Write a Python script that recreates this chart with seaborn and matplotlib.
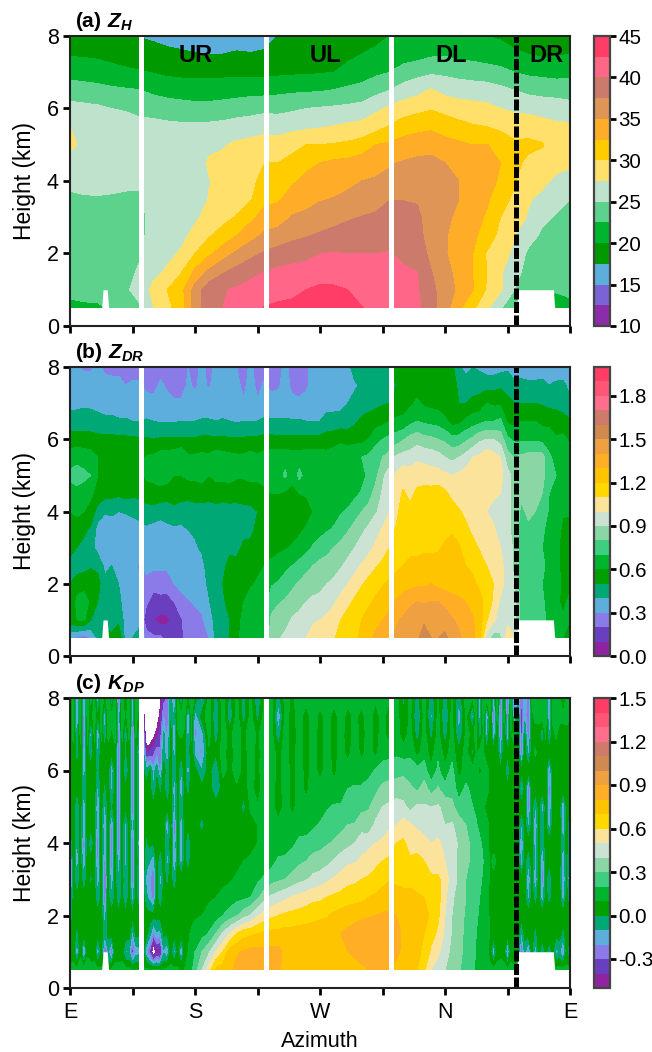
import numpy as np
import matplotlib
matplotlib.use('Agg')
import matplotlib.pyplot as plt
from matplotlib.colors import ListedColormap, BoundaryNorm
import seaborn as sns

heights = [0.5, 1, 1.5, 2, 2.5, 3, 3.5, 4, 4.5, 5, 5.5, 6, 6.5, 7, 7.5, 8]
az_10 = list(range(0, 361, 10))
az_5 = list(range(0, 361, 5))
az_kdp = list(np.arange(0, 90, 2.5)) + list(range(90, 290, 5)) + list(np.arange(290, 360.1, 2.5))

# each row below is one azimuth, bottom to top
zh = [
    [21.5, 23.5, 23.6, 23.6, 23.7, 24.0, 24.6, 25.5, 26.7, 28.0, 27.5, 25.8, 23.8, 21.5, 19.8, 18.5],
    [22, 23.5, 23.6, 23.7, 23.8, 24.2, 24.8, 25.6, 26.4, 27, 26.8, 25.6, 23.6, 21.3, 19.7, 18.5],
    [22, 23.7, 23.7, 23.8, 24, 24.3, 24.8, 25.8, 26.2, 26.6, 26.5, 25.4, 23.4, 21, 19.6, 18.4],
    [23, 24, 24, 24, 24, 24.2, 24.7, 25.7, 26.2, 26.4, 26.4, 25, 23, 20.7, 19.3, 18.2],
    [24, 24.8, 24.5, 24.2, 24.1, 24.2, 24.6, 25.5, 26, 26.3, 26, 24.8, 22.8, 20.4, 19, 18],
    [24.8, 25.5, 25.2, 24.8, 24.6, 24.6, 24.8, 25.2, 26, 26.3, 25.8, 24.3, 22.6, 20.2, 18.6, 17.4],
    [27.4, 28.3, 26.7, 25.9, 25.6, 25.5, 25.6, 25.8, 26, 26.2, 25.8, 24, 22, 19.9, 18.6, 17],
    [29.2, 30, 27.9, 26.8, 26.2, 25.9, 25.7, 25.8, 26, 26.2, 25.6, 23.7, 21.6, 19.5, 18, 16.8],
    [31.5, 31.6, 29.8, 27.8, 26.8, 26.2, 25.9, 25.8, 25.9, 26, 25.5, 23.4, 21.5, 19.3, 17.8, 16.6],
    [36, 36, 33, 30, 28.2, 27.1, 26.4, 26, 26, 26, 25.5, 23.2, 21.4, 19.2, 17.6, 16.4],
    [39, 39, 35.5, 32, 29.7, 28.3, 27.6, 27.4, 27.8, 27, 25.6, 23.2, 21.4, 19.2, 17.5, 16.4],
    [40, 39.8, 37.2, 33.8, 31, 29.2, 28.5, 28, 28, 27.3, 25.8, 23.4, 21.5, 19.3, 17.5, 16.5],
    [41, 40.3, 38.3, 35.5, 32.5, 30.2, 29, 28.7, 28.4, 27.9, 26.2, 23.7, 21.6, 19.3, 17.7, 16.6],
    [41.6, 41, 39.2, 36.8, 34, 31.9, 29.8, 29.2, 28.8, 28.2, 26.4, 24, 21.7, 19.3, 17.6, 16.5],
    [42.6, 41.5, 40, 37.8, 35.5, 33.5, 31.8, 31, 30, 28.4, 26.8, 24.3, 21.7, 19.3, 17.8, 16.6],
    [43, 41.5, 40.5, 38.5, 36, 33.8, 32.2, 31, 30, 28.5, 26.5, 24.3, 21.9, 19.5, 18, 17.6],
    [43, 42, 40.7, 39, 36.8, 35.2, 33.5, 32.2, 31, 29, 26.9, 24.6, 22.1, 19.6, 18.2, 17.5],
    [43.5, 42.5, 41, 39.2, 37.3, 35.7, 34, 33, 32, 30, 27, 25, 22.2, 19.7, 18.4, 17.6],
    [43.8, 43, 41.3, 40, 37.8, 36.2, 34.8, 33.8, 32.5, 30, 27.3, 25.2, 22.3, 19.8, 18.6, 17.8],
    [43.5, 42.9, 41.4, 40.1, 38.3, 36.6, 35.1, 34.2, 33, 30.2, 27.6, 25.4, 22.6, 20, 18.8, 18],
    [43, 42.5, 41.1, 40, 38.6, 37.2, 35.4, 34.6, 33.2, 30.5, 28, 25.6, 23, 20.8, 19.4, 18.2],
    [42.6, 41.5, 40.9, 40, 38.9, 37.6, 35.9, 35, 33.8, 31, 28.3, 25.9, 23.3, 21.4, 20, 19],
    [42, 41.5, 40.8, 40, 39, 38, 36.2, 35.3, 34, 32.5, 29, 27, 24.2, 22, 20.3, 19.6],
    [41.5, 41.3, 40.7, 40.1, 39.2, 38.6, 37.4, 35.5, 34.8, 32.9, 30.2, 27.9, 25, 22.5, 21, 20],
    [41, 41, 40.3, 39.5, 39, 38.5, 37.4, 36.1, 35.2, 33.6, 31.2, 28.8, 26, 23.6, 21.2, 21],
    [40.5, 40.2, 40, 39, 38.3, 38, 37.3, 36.4, 35.5, 34, 31.7, 29.3, 26.7, 24.2, 21.5, 20.8],
    [38.5, 38.3, 37.6, 36.8, 36.4, 36.3, 36.2, 36.4, 35.6, 34.2, 32, 29.8, 27.8, 24.6, 22.1, 20.8],
    [36, 36, 35.8, 35.2, 35.2, 35.4, 35.6, 35.8, 35, 33.5, 31.2, 29.3, 26.7, 24.5, 22.2, 20.6],
    [33, 34.6, 34.2, 33.8, 34, 34.6, 35, 35, 33.6, 33, 30.7, 28.8, 26.3, 24.2, 21.8, 20.5],
    [30.5, 32.6, 32.5, 32.5, 33, 33.5, 34, 34.2, 33.4, 32.5, 30.2, 28.6, 26.1, 24, 21.5, 20.3],
    [28, 29.8, 30, 29.8, 31.5, 32.2, 32.9, 33.8, 33, 32.6, 30, 28.2, 26, 23.8, 21, 20],
    [25.3, 27.8, 27.8, 28.5, 29.2, 30, 31, 32, 32.5, 31.5, 29.5, 27.5, 25.6, 23.3, 20.7, 19.8],
    [22.6, 25, 26, 27, 27.6, 28.6, 29.5, 30.2, 30.6, 30.3, 29.2, 27, 25, 22.5, 20.2, 19.5],
    [22, 23.5, 24, 24.5, 26, 27.3, 27.7, 28.5, 29.5, 30.5, 29, 26.8, 24.4, 22, 20, 19.3],
    [21, 23.3, 23.3, 23.7, 24.6, 25.5, 27, 28, 29, 30.2, 28.6, 26.4, 24.2, 21.8, 19.6, 19],
    [20, 23, 23.3, 23.5, 24, 24.8, 25.7, 27, 28.3, 28.5, 28, 26.3, 24, 21.6, 19.8, 19],
    [21.5, 23.3, 23.6, 23.7, 24, 24.5, 25, 26.8, 27.8, 28.5, 27.9, 26, 23.8, 21.8, 20, 19.3],
]

# hundredths of a dB
zdr = [
    [30, 56, 52, 50, 48, 52, 56, 60, 66, 72, 66, 54, 45, 36, 33, 32],
    [28, 60, 62, 56, 44, 50, 55, 62, 67, 74, 67, 54, 45, 37, 33, 31],
    [24, 62, 64, 57, 46, 47, 52, 60, 66, 72, 66, 54, 45, 38, 33, 29],
    [30, 50, 58, 60, 48, 44, 48, 56, 62, 70, 64, 54, 44, 38, 33, 29],
    [42, 46, 50, 54, 47, 36, 36, 46, 56, 60, 60, 53, 43, 37, 34, 32],
    [55, 45, 44, 42, 38, 34, 33, 41, 54, 57, 57, 53, 42, 36, 33, 28],
    [52, 45, 46, 43, 40, 36, 34, 42, 53, 56, 58, 53, 42, 36, 33, 27],
    [60, 47, 42, 40, 40, 36, 33, 40, 52, 56, 55, 52, 41, 35, 32, 28],
    [35, 36, 36, 34, 34, 33, 32, 41, 54, 56, 57, 52, 41, 35, 30, 26],
    [40, 36, 34, 33, 33, 33, 33, 43, 52, 54, 58, 52, 40, 35, 31, 27],
    [50, 32, 30, 30, 29, 33, 35, 45, 52, 56, 56, 51, 40, 36, 31, 27],
    [25, 13, 22, 28, 32, 36, 38, 46, 55, 62, 61, 51, 41, 33, 28, 25],
    [22, 10, 15, 24, 32, 34, 36, 46, 57, 62, 62, 50, 40, 33, 27, 24],
    [22, 6, 17, 24, 32, 34, 34, 45, 55, 67, 65, 51, 39, 32, 31, 28],
    [16, 8, 16, 25, 32, 34, 37, 45, 54, 65, 65, 51, 39, 32, 29, 25],
    [17, 14, 20, 30, 32, 33, 38, 47, 55, 60, 67, 51, 39, 31, 27, 25],
    [19, 19, 26, 33, 35, 36, 38, 45, 54, 60, 70, 51, 40, 31, 27, 24],
    [22, 24, 29, 34, 35, 37, 40, 44, 54, 62, 62, 51, 40, 32, 31, 30],
    [27, 27, 31, 34, 36, 39, 41, 45, 55, 62, 62, 51, 40, 32, 29, 26],
    [28, 29, 32, 36, 38, 41, 42, 44, 56, 63, 63, 52, 41, 33, 32, 33],
    [30, 34, 39, 42, 43, 43, 44, 44, 55, 60, 62, 52, 41, 33, 29, 26],
    [42, 44, 46, 47, 45, 44, 44, 45, 56, 62, 65, 52, 40, 33, 33, 33],
    [46, 47, 49, 50, 47, 45, 44, 46, 54, 63, 64, 52, 41, 34, 33, 32],
    [50, 50, 52, 53, 54, 47, 44, 44, 57, 62, 63, 51, 40, 33, 33, 31],
    [58, 57, 56, 55, 53, 47, 45, 44, 56, 61, 62, 51, 39, 33, 32, 30],
    [63, 62, 60, 57, 54, 52, 47, 46, 56, 61, 62, 51, 40, 31, 28, 26],
    [65, 64, 63, 59, 56, 52, 48, 47, 56, 62, 64, 52, 40, 32, 33, 32],
    [64, 66, 64, 61, 58, 55, 52, 50, 56, 62, 62, 52, 40, 31, 28, 26],
    [68, 66, 64, 62, 60, 59, 57, 56, 58, 63, 64, 53, 42, 33, 31, 28],
    [87, 82, 76, 69, 62, 57, 55, 54, 60, 64, 65, 53, 41, 33, 28, 26],
    [89, 85, 79, 71, 64, 58, 55, 54, 60, 66, 66, 52, 41, 33, 29, 26],
    [92, 87, 81, 75, 67, 59, 55, 54, 58, 72, 66, 52, 41, 34, 33, 33],
    [95, 91, 84, 78, 70, 61, 56, 53, 58, 62, 65, 52, 41, 32, 28, 26],
    [98, 93, 87, 81, 73, 64, 58, 54, 60, 73, 65, 52, 41, 31, 28, 26],
    [100, 96, 90, 84, 77, 67, 61, 56, 61, 66, 65, 53, 40, 32, 29, 28],
    [103, 99, 92, 86, 80, 71, 65, 60, 62, 64, 66, 53, 40, 33, 32, 33],
    [104, 100, 93, 87, 83, 74, 67, 63, 62, 64, 65, 53, 40, 36, 34, 33],
    [106, 102, 96, 90, 84, 77, 69, 64, 63, 64, 64, 54, 44, 36, 35, 34],
    [109, 104, 99, 92, 86, 80, 71, 66, 64, 63, 65, 56, 43, 37, 35, 33],
    [114, 110, 103, 96, 89, 83, 75, 69, 65, 64, 66, 58, 44, 37, 36, 34],
    [118, 115, 107, 100, 93, 86, 79, 71, 66, 66, 67, 56, 45, 40, 35, 36],
    [119, 118, 112, 104, 97, 90, 84, 75, 68, 67, 68, 57, 48, 44, 38, 46],
    [121, 120, 116, 109, 101, 94, 88, 80, 71, 67, 70, 57, 52, 44, 42, 44],
    [128, 125, 118, 113, 105, 97, 92, 84, 75, 72, 72, 60, 54, 46, 43, 46],
    [132, 127, 122, 116, 109, 102, 96, 89, 84, 77, 77, 66, 56, 47, 45, 47],
    [135, 130, 125, 119, 112, 106, 101, 93, 91, 88, 80, 70, 57, 49, 46, 47],
    [138, 133, 127, 122, 115, 110, 106, 100, 96, 95, 84, 73, 60, 50, 48, 50],
    [143, 138, 131, 124, 118, 113, 111, 108, 107, 102, 92, 75, 62, 53, 50, 52],
    [146, 142, 134, 126, 120, 118, 116, 114, 111, 107, 94, 79, 62, 56, 53, 55],
    [149, 148, 137, 127, 121, 119, 116, 112, 108, 105, 94, 84, 67, 58, 54, 52],
    [149, 150, 140, 128, 122, 118, 115, 113, 112, 106, 98, 86, 70, 62, 55, 60],
    [153, 149, 139, 128, 122, 119, 119, 116, 114, 105, 97, 83, 68, 58, 57, 52],
    [150, 148, 140, 130, 122, 119, 117, 117, 114, 104, 96, 82, 67, 57, 58, 60],
    [150, 149, 140, 127, 123, 119, 116, 116, 115, 104, 94, 80, 66, 56, 57, 53],
    [152, 146, 137, 126, 124, 121, 118, 117, 112, 102, 90, 78, 62, 55, 55, 58],
    [147, 141, 134, 125, 124, 123, 119, 115, 107, 100, 87, 73, 56, 53, 58, 52],
    [142, 138, 132, 125, 123, 121, 116, 111, 105, 102, 90, 74, 57, 50, 46, 42],
    [136, 133, 130, 124, 120, 116, 112, 108, 106, 104, 94, 78, 62, 50, 45, 36],
    [132, 131, 127, 122, 118, 113, 108, 103, 103, 105, 100, 82, 65, 53, 45, 40],
    [122, 125, 123, 118, 114, 109, 104, 102, 103, 105, 102, 88, 67, 54, 46, 38],
    [95, 111, 116, 113, 110, 106, 102, 100, 102, 104, 108, 90, 70, 60, 46, 35],
    [85, 102, 108, 110, 109, 104, 101, 98, 101, 105, 104, 90, 70, 58, 46, 35],
    [88, 95, 98, 104, 104, 100, 96, 96, 100, 103, 100, 86, 72, 58, 48, 36],
    [105, 98, 96, 96, 94, 95, 92, 93, 94, 94, 84, 72, 58, 52, 47, 38],
    [100, 94, 92, 90, 88, 88, 87, 86, 85, 86, 80, 68, 57, 50, 42, 34],
    [80, 76, 75, 74, 74, 74, 75, 78, 82, 85, 82, 68, 60, 50, 44, 33],
    [78, 74, 73, 72, 73, 76, 78, 82, 85, 87, 84, 68, 60, 50, 42, 34],
    [76, 73, 72, 72, 74, 75, 76, 80, 84, 86, 85, 68, 60, 50, 42, 34],
    [72, 72, 72, 70, 72, 70, 72, 75, 80, 83, 84, 67, 57, 49, 43, 34],
    [68, 68, 65, 65, 67, 66, 66, 69, 70, 74, 72, 65, 57, 47, 40, 33],
    [62, 63, 62, 66, 64, 63, 64, 66, 68, 70, 66, 61, 55, 47, 42, 33],
    [60, 61, 58, 57, 56, 56, 58, 61, 63, 64, 66, 63, 53, 46, 42, 34],
    [60, 60, 62, 58, 54, 52, 54, 62, 63, 64, 64, 58, 51, 42, 37, 33],
]

# hundredths of a degree per km
kdp = [
    [12, 2, 4, -14, -20, -38, -40, -10, 2, 3, 3, 3, 5, 6, -4, 3],
    [13, 6, 6, 4, 3, 3, 4, 4, 3, 3, 4, 5, 7, 13, 14, 15],
    [12, -22, -4, 4, 2, -10, -18, -14, -12, -10, 2, 3, -8, -16, -26, -24],
    [14, 8, 6, 4, 3, 3, 4, 3, 3, 4, 3, 5, 6, 14, 15, 15],
    [14, -30, 0, 4, 2, -6, -24, -30, -18, -20, -10, -18, -28, -36, -32, -30],
    [15, 8, 6, 4, 3, 3, 3, 3, 3, 4, 4, 5, 8, 13, 15, 15],
    [15, 3, 5, 4, 3, -2, 2, -8, 3, 5, 4, 4, -12, -18, 4, -14],
    [14, 5, 6, 4, 3, 3, 3, 3, 3, 3, 4, 4, 7, 13, 15, 14],
    [12, -18, 2, 3, -8, -20, -26, -30, -22, -24, -14, -4, -14, -24, -2, -22],
    [12, 2, 4, 4, 2, 3, 3, 3, 3, 4, 3, 4, 7, 12, 14, 14],
    [10, -35, -8, -16, -32, -38, -26, -18, -24, -14, -2, 3, 2, -12, -22, 8],
    [11, -10, 4, 3, 3, 3, 3, 3, 3, 3, 4, 4, 6, 13, 14, 14],
    [12, -30, 5, 4, -10, -20, -30, -34, -24, -2, -14, -20, 2, 8, 12, -14],
    [13, 5, 6, 4, 3, 3, 3, 3, 3, 4, 4, 5, 7, 13, 15, 14],
    [14, 4, 7, 3, -8, -10, -18, -32, -28, -30, -34, -32, -26, -28, -24, -34],
    [14, 5, 6, 4, 3, 3, 3, 3, 3, 3, 4, 4, 7, 12, 14, 14],
    [14, -12, 7, 3, -10, -8, -14, -18, -14, 2, 3, -12, -2, -14, 8, 2],
    [12, -10, 5, 4, 3, 3, 3, 3, 3, 4, 4, 3, 6, 12, 14, 14],
    [10, -36, -14, 3, -16, -26, -30, -26, -18, -28, -34, -30, -36, -30, -24, -26],
    [11, -16, 3, 3, 3, 3, 3, 3, 3, 3, 3, 3, 6, 11, 14, 14],
    [10, -14, 2, 3, -12, -16, -6, -22, -10, -16, -18, -8, -22, -16, 4, 12],
    [11, 4, 5, 5, 4, 4, 4, 4, 4, 4, 4, 4, -4, -10, -30, -40],
    [12, -18, 3, 4, -8, -14, -6, -2, 2, 3, 3, -8, -42, -70, -90, -95],
    [12, -34, -6, 4, -14, -18, -10, 3, 3, 3, 3, 2, -38, -65, -85, -95],
    [12, -65, -24, 4, -28, -34, -18, 0, 3, 3, -10, -16, -34, -55, -75, -85],
    [11, -44, -12, 4, 2, 3, 3, 3, 3, 3, 3, -2, -24, -45, -62, -70],
    [10, -48, -14, 4, -8, -16, -6, 2, 3, 3, -2, -24, -28, -36, -45, -55],
    [11, -12, 2, 4, 3, 3, 3, 3, 3, 4, 3, 4, -4, -8, -20, -35],
    [12, -20, 1, 4, 3, -3, -16, -10, -22, 3, -12, -6, -22, -26, -26, -28],
    [13, 3, 4, 5, 4, 4, 3, 3, 3, 4, 3, 4, 3, 5, -2, -6],
    [14, -16, 4, 5, 2, -8, -26, -24, -32, -14, -18, -10, -16, -24, -12, -24],
    [12, 2, 5, 5, 4, 4, 3, 3, 3, 3, 3, 4, 5, 9, 12, 12],
    [8, -22, 3, 5, 4, 4, -16, -24, -20, -8, -24, -12, 3, 12, 12, -16],
    [10, 4, 7, 6, 5, 5, 3, 3, 3, 3, 3, 4, 5, 8, 13, 14],
    [12, 10, 9, 8, 6, 4, -6, -12, 3, 3, -4, -18, -8, -18, -24, 8],
    [18, 14, 11, 8, 7, 5, 5, 5, 5, 5, 5, 6, 7, 12, 12, 14],
    [25, 20, 13, 9, 7, 4, 3, 3, 3, 3, 3, 3, -14, -22, -18, 8],
    [40, 30, 16, 10, 8, 6, 4, 3, -2, 3, 3, -10, -22, -16, 6, -16],
    [55, 38, 21, 12, 9, 7, 5, 5, 4, 4, 5, 5, 8, 14, 15, 14],
    [72, 50, 30, 15, 10, 8, 5, 4, 3, 4, -8, -12, 2, -6, -12, -6],
    [75, 60, 41, 20, 11, 9, 6, 5, 4, 4, 4, 14, 14, 14, 15, 16],
    [78, 75, 50, 25, 14, 9, 6, 5, 4, 5, 6, 6, 5, 7, -10, -4],
    [82, 79, 60, 29, 17, 11, 8, 6, 5, 8, 8, 15, 15, 15, 15, 14],
    [84, 81, 66, 36, 18, 13, 10, 6, 5, -4, 5, 6, 6, 7, -6, -8],
    [85, 83, 68, 41, 20, 14, 11, 8, 6, 12, 13, 14, 14, 15, 14, 15],
    [85, 83, 70, 49, 28, 18, 12, 10, 10, 11, 6, 7, 7, 8, -4, -12],
    [84, 82, 72, 54, 36, 22, 14, 13, 13, 14, 14, 16, 15, 16, 14, 14],
    [82, 83, 73, 58, 42, 26, 16, 13, 13, 14, 15, 15, 16, 14, 15, 13],
    [82, 83, 73, 60, 45, 28, 22, 13, 14, 4, 5, 6, 5, -8, -20, -6],
    [76, 77, 74, 62, 48, 30, 23, 14, 14, 14, 15, 15, 15, 16, 14, 14],
    [73, 75, 74, 63, 51, 33, 25, 18, 14, 7, 6, 6, 5, 4, 6, 8],
    [74, 76, 75, 64, 53, 37, 28, 22, 16, 14, 15, 15, 15, 14, 15, 14],
    [74, 75, 75, 65, 55, 39, 30, 24, 14, 14, 7, 6, 5, 6, 4, 15],
    [75, 75, 75, 67, 57, 43, 33, 26, 18, 14, 15, 15, 14, 15, 16, 14],
    [75, 77, 76, 68, 58, 45, 34, 27, 21, 15, 14, 6, 5, 6, 6, 16],
    [75, 77, 76, 69, 60, 48, 37, 29, 24, 19, 15, 15, 15, 14, 15, 13],
    [75, 78, 79, 72, 62, 51, 41, 31, 25, 21, 14, 7, 6, 5, 6, 14],
    [76, 79, 80, 74, 63, 54, 45, 34, 27, 21, 15, 15, 14, 14, 14, 15],
    [78, 80, 82, 76, 65, 57, 48, 37, 30, 23, 20, 16, 6, 5, 7, 13],
    [76, 82, 84, 77, 66, 58, 49, 40, 31, 20, 21, 16, 15, 15, 12, 14],
    [78, 84, 86, 78, 67, 60, 52, 45, 36, 27, 21, 16, 7, 6, 7, 14],
    [80, 86, 87, 79, 70, 61, 55, 47, 34, 29, 25, 16, 15, 14, 15, 14],
    [82, 87, 86, 80, 72, 63, 58, 50, 42, 35, 27, 21, 7, 6, 5, 12],
    [82, 87, 85, 81, 75, 66, 60, 52, 44, 40, 33, 23, 17, 14, 15, 15],
    [80, 85, 84, 81, 77, 69, 62, 55, 48, 42, 34, 25, 17, 5, 3, 12],
    [77, 82, 84, 80, 72, 69, 64, 60, 50, 44, 35, 26, 18, 15, 14, 16],
    [76, 78, 78, 78, 72, 68, 63, 62, 54, 43, 34, 28, 15, 4, 3, -4],
    [75, 75, 75, 74, 72, 68, 62, 55, 51, 36, 32, 24, 18, 14, 12, 14],
    [70, 72, 72, 73, 71, 67, 63, 56, 48, 42, 28, 24, 6, -6, -12, -6],
    [62, 68, 70, 72, 70, 66, 60, 53, 46, 41, 34, 25, 16, 15, 14, 15],
    [50, 58, 64, 69, 68, 62, 55, 50, 43, 40, 26, 12, 5, -4, -14, -8],
    [45, 52, 58, 62, 64, 62, 54, 53, 42, 41, 31, 22, 18, 14, 14, 12],
    [40, 45, 48, 50, 52, 55, 50, 45, 40, 37, 24, 12, 5, -6, -14, -6],
    [36, 37, 39, 40, 42, 45, 44, 46, 41, 33, 26, 24, 15, 14, 14, 12],
    [31, 33, 33, 33, 35, 38, 38, 38, 36, 24, 15, 6, 3, -10, -18, -8],
    [26, 27, 28, 29, 30, 30, 32, 32, 30, 28, 22, 15, 14, 12, 12, 14],
    [22, 23, 24, 26, 27, 28, 28, 28, 26, 20, 17, 14, -4, 8, -14, 10],
    [18, 19, 20, 22, 23, 25, 26, 25, 21, 18, 15, 12, 10, 13, 14, 12],
    [15, 16, 17, 18, 20, 23, 24, 22, 17, 16, 14, 8, 14, -8, -18, -20],
    [14, 14, 15, 16, 17, 18, 20, 18, 15, 12, 14, 12, 12, 10, 14, 14],
    [14, 14, 14, 14, 14, 15, 18, 15, 14, 6, 14, 14, 2, -16, -24, 14],
    [13, 5, 9, 8, 7, 8, 7, 7, 8, 7, 8, 8, 7, 8, 10, 14],
    [13, -20, 5, 4, 5, 6, 14, 5, 2, 4, 2, 7, 6, -22, -30, -22],
    [13, 6, 8, 7, 7, 8, 8, 7, 7, 7, 7, 7, 5, 8, 12, 14],
    [14, 7, 5, 4, 3, 6, 5, 4, 2, 5, 5, 2, -14, -28, -34, -26],
    [13, 6, 6, 5, 6, 6, 6, 6, 5, 6, 5, 5, 6, 6, 13, 5],
    [12, -26, 5, 5, 3, 4, 5, 6, 4, 3, 5, -12, 4, -22, -26, -34],
    [13, 6, 6, 6, 5, 6, 6, 5, 6, 5, 6, 6, 6, 10, 12, 12],
    [12, 4, 7, 6, 5, 5, 7, 6, 5, 5, 6, 8, 8, 12, -26, -34],
    [12, 2, 6, 6, 5, 5, 5, 5, 5, 5, 5, 6, 7, 8, 4, -8],
    [12, -32, -12, 4, 3, 3, -18, -24, -12, 4, -14, 3, -32, -36, -38, -30],
    [12, -6, 4, 4, 3, 3, 3, 3, 3, 3, 3, 3, 2, 0, -14, -12],
    [13, -28, 5, 4, -14, -26, -8, 3, -14, -28, -30, 4, -14, -30, -34, -30],
    [13, 2, 5, 4, 3, 3, 3, 3, 3, 3, 3, 4, 4, 5, 6, 12],
    [14, -18, -4, 4, -4, -24, -14, -18, -24, -12, 4, 4, 12, 4, 14, 13],
    [13, 3, 5, 4, 3, 3, 3, 3, 3, 3, 3, 4, 5, 5, 14, 14],
    [13, -8, 5, 4, -18, -30, -24, -10, -6, -18, 3, 4, 6, -12, 14, 15],
    [12, 2, 5, 4, 3, 3, 3, 3, 3, 3, 3, 4, 5, 12, 14, 14],
    [12, -6, 7, 4, -4, -12, 3, 4, -18, -26, -28, -24, 3, -14, -24, -28],
    [13, 1, 6, 4, 3, 3, 3, 3, 3, 3, 3, 3, 4, 6, 13, 14],
    [14, -14, 5, 4, 3, 3, 4, 3, 4, 4, 4, 4, 5, 12, 14, 14],
    [14, -8, 5, 4, 3, 3, 3, 3, 3, 3, 3, 4, 4, 5, 13, 14],
    [13, -26, -4, 4, -18, -28, -20, -12, -20, -24, 4, 4, 4, 4, 14, -8],
    [13, 2, 5, 4, 3, 3, 3, 3, 3, 3, 4, 4, 4, 6, 14, 12],
    [12, -14, 3, 5, -14, -28, -24, -14, -18, 5, 4, 4, 4, -6, 14, 12],
]

# lowest height with data
floor_az = [0, 22.8, 23.8, 26.8, 27.8, 322, 322.1, 348, 349, 360]
floor_h = [0.5, 0.5, 1, 1, 0.5, 0.5, 1, 1, 0.5, 0.5]

quadrant_az = [51, 141, 231]
shear_az = 321
quadrant_names = ['UR', 'UL', 'DL', 'DR']
quadrant_pos = [90.5, 184, 274.5, 343]

az_ticks = [0, 45, 90, 135, 180, 225, 270, 315, 360]
az_labels = ['E', '', 'S', '', 'W', '', 'N', '', 'E']

colors_a = ['#8B2CA8', '#7B63D6', '#5CAEDC', '#009900', '#00B52E', '#5CD28C', '#BFE2CC',
            '#FFE06A', '#FFCC00', '#FFAD28', '#DF9555', '#CC7A6C', '#FF6688', '#FF3D66']
colors_b = ['#8E24A0', '#6A3FBF', '#8A7BE8', '#5DADDD', '#00A876', '#00A000', '#00B52E',
            '#3DCF7F', '#8AD6A4', '#CCE3D4', '#FBE39B', '#FFD800', '#FFC400', '#FFAE25',
            '#EFA040', '#D0894F', '#D07A6C', '#FF6E8C', '#FF5577', '#FF3D66']

sns.set_theme(style='ticks')
plt.rcParams['font.family'] = ['Liberation Sans', 'DejaVu Sans']
plt.rcParams['mathtext.fontset'] = 'custom'
plt.rcParams['mathtext.bf'] = 'Liberation Sans:bold'
plt.rcParams['mathtext.bfit'] = 'Liberation Sans:italic:bold'
plt.rcParams['text.color'] = 'black'
plt.rcParams['axes.labelcolor'] = 'black'

W, H = 652, 1052
fig = plt.figure(figsize=(W / 100, H / 100), dpi=100)

panels = [
    (np.array(zh), az_10, np.linspace(10, 45, 15), colors_a, [10, 15, 20, 25, 30, 35, 40, 45],
     ['10', '15', '20', '25', '30', '35', '40', '45'], r'$\mathbf{(a)}\ \mathbfit{Z}_{\mathbfit{H}}$', 36, 326),
    (np.array(zdr) / 100, az_5, np.linspace(0, 2, 21), colors_b, [0, 0.3, 0.6, 0.9, 1.2, 1.5, 1.8],
     ['0.0', '0.3', '0.6', '0.9', '1.2', '1.5', '1.8'], r'$\mathbf{(b)}\ \mathbfit{Z}_{\mathbfit{DR}}$', 367, 656),
    (np.array(kdp) / 100, az_kdp, np.linspace(-0.5, 1.5, 21), colors_b, [-0.3, 0, 0.3, 0.6, 0.9, 1.2, 1.5],
     ['-0.3', '0.0', '0.3', '0.6', '0.9', '1.2', '1.5'], r'$\mathbf{(c)}\ \mathbfit{K}_{\mathbfit{DP}}$', 698, 988),
]

for i, (values, az, levels, colors, cticks, clabels, title, top, bottom) in enumerate(panels):
    ax = fig.add_axes([70 / W, 1 - bottom / H, 500 / W, (bottom - top) / H])
    cax = fig.add_axes([594 / W, 1 - bottom / H, 16 / W, (bottom - top) / H])

    cmap = ListedColormap(sns.color_palette(colors))
    norm = BoundaryNorm(levels, cmap.N)
    cs = ax.contourf(az, heights, values.T, levels=levels, cmap=cmap, norm=norm)

    ax.fill_between(floor_az, 0, floor_h, color='white', lw=0, zorder=3)
    for q in quadrant_az:
        ax.axvline(q, color='white', lw=3.6, zorder=3)
    ax.axvline(shear_az, color='black', lw=3.6, ls=(0, (2.2, 0.5)), zorder=4)

    ax.set_xlim(0, 360)
    ax.set_ylim(0, 8)
    ax.set_yticks([0, 2, 4, 6, 8])
    ax.set_xticks(az_ticks)
    ax.set_xticklabels(az_labels if i == 2 else [])
    ax.tick_params(length=5, width=2, labelsize=15.5, color='black', labelcolor='black', pad=3)
    ax.tick_params(axis='x', pad=5)
    ax.set_ylabel('Height (km)', fontsize=16.5)
    ax.yaxis.set_label_coords(-0.068, 0.5)
    for s in ax.spines.values():
        s.set_linewidth(1.5)
        s.set_color('#222222')
        s.set_zorder(5)
    ax.text(0.01, 1.012, title, transform=ax.transAxes, fontsize=15, va='bottom', ha='left')

    if i == 0:
        for name, pos in zip(quadrant_names, quadrant_pos):
            ax.text(pos, 7.47, name, fontsize=17, fontweight='bold', ha='center', va='center', zorder=6)
    if i == 2:
        ax.set_xlabel('Azimuth', fontsize=15.5, labelpad=6)

    cb = fig.colorbar(cs, cax=cax, spacing='proportional')
    cb.set_ticks(cticks)
    cb.set_ticklabels(clabels)
    cb.ax.tick_params(length=4, width=2, labelsize=14.8, color='black', labelcolor='black', pad=2)
    cb.ax.minorticks_off()
    cb.outline.set_linewidth(1.6)
    cb.outline.set_edgecolor('#444444')

fig.savefig('out.png', dpi=100)
